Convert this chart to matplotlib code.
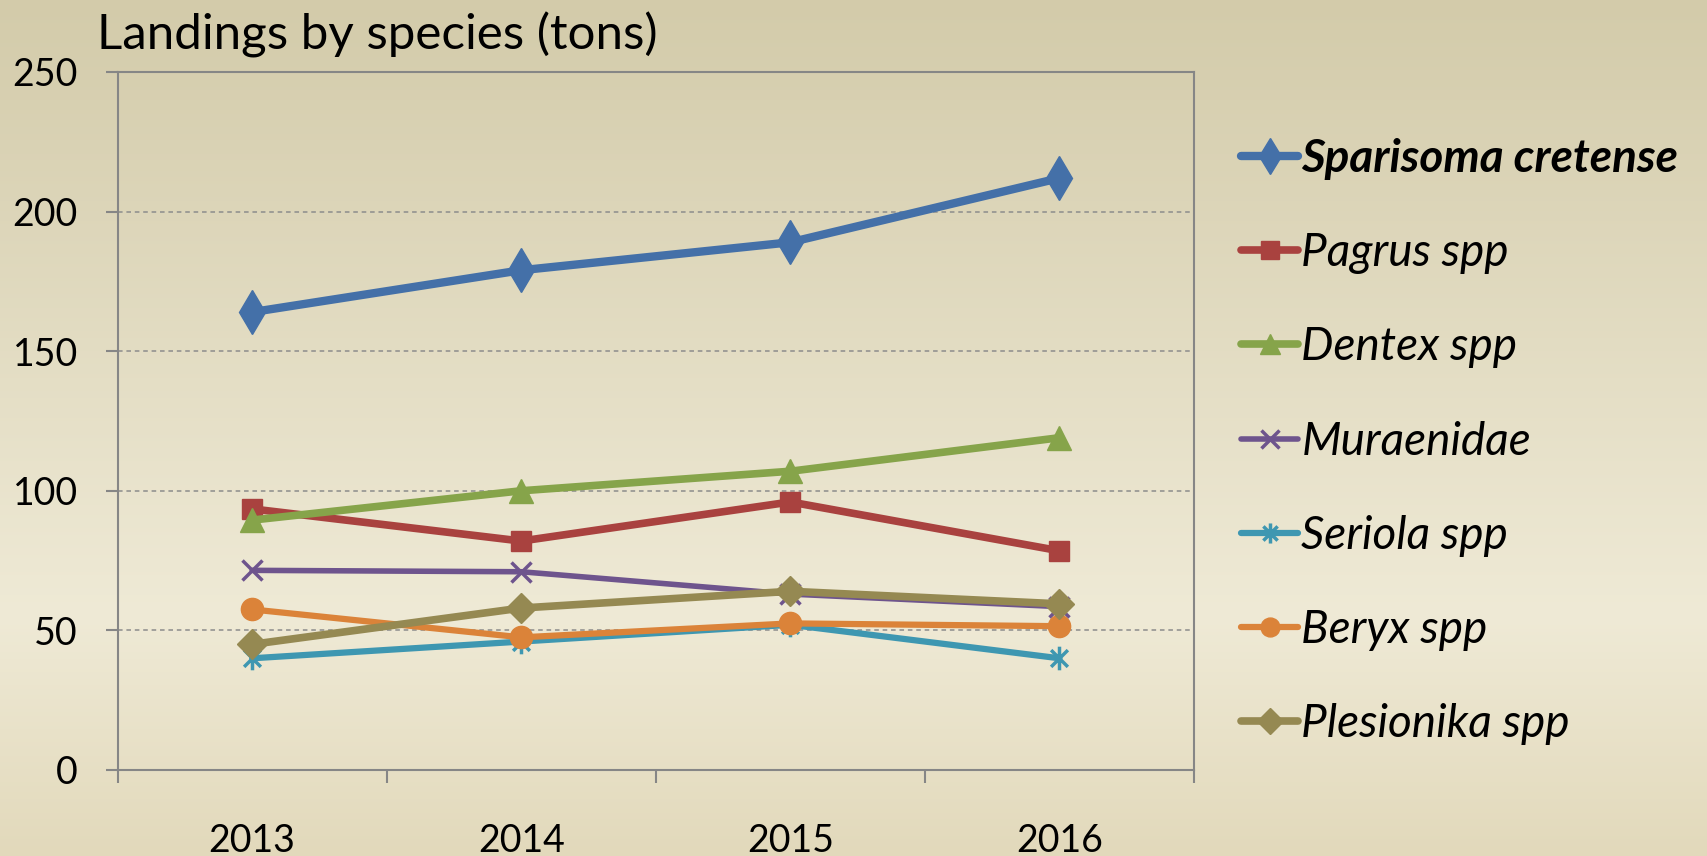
import numpy as np
import matplotlib
matplotlib.use("Agg")
import matplotlib.pyplot as plt
from matplotlib.path import Path
from matplotlib.colors import LinearSegmentedColormap

# data
years = ["2013", "2014", "2015", "2016"]
species = ["Sparisoma cretense", "Pagrus spp", "Dentex spp", "Muraenidae",
           "Seriola spp", "Beryx spp", "Plesionika spp"]
sparisoma = [164, 179, 189, 212]
pagrus = [93.5, 82, 96, 78.5]
dentex = [89.5, 100, 107, 119]
muraenidae = [71.5, 71, 63, 58.5]
seriola = [40, 46, 52, 40]
beryx = [57.5, 47.5, 52.5, 51.5]
plesionika = [45, 58, 64, 59.5]

values = [sparisoma, pagrus, dentex, muraenidae, seriola, beryx, plesionika]

# asterisk marker like Excel's: vertical bar plus an x
star = Path([(0, -1), (0, 1), (-0.71, -0.71), (0.71, 0.71), (-0.71, 0.71), (0.71, -0.71)],
            [Path.MOVETO, Path.LINETO, Path.MOVETO, Path.LINETO, Path.MOVETO, Path.LINETO])

styles = [
    dict(color="#4470A8", marker="d", ms=22, lw=6.0),
    dict(color="#A9423F", marker="s", ms=15, lw=5.5),
    dict(color="#86A44A", marker="^", ms=17, lw=5.5),
    dict(color="#6E548D", marker="x", ms=15, lw=4.0, mew=2.5),
    dict(color="#3E97B1", marker=star, ms=17, lw=4.5, mew=2.5),
    dict(color="#DB8339", marker="o", ms=16, lw=4.5),
    dict(color="#958952", marker="D", ms=15, lw=5.5),
]

plt.rcParams['font.family'] = ['Lato', 'DejaVu Sans']

fig = plt.figure(figsize=(17.07, 8.56), dpi=100)

# background gradient for whole slide
bg = fig.add_axes([0, 0, 1, 1], zorder=-10)
cmap = LinearSegmentedColormap.from_list(
    "bg", [(0.0, "#D3CBAA"), (0.72, "#EFEAD6"), (1.0, "#E2D9BB")])
grad = np.linspace(0, 1, 256).reshape(-1, 1)
bg.imshow(grad, aspect="auto", cmap=cmap, extent=[0, 1, 0, 1], origin="upper")
bg.axis("off")

ax = fig.add_axes([0.0689, 0.1005, 0.6306, 0.8154])
ax.set_facecolor("none")

x = np.arange(len(years))
for name, vals, st in zip(species, values, styles):
    ax.plot(x, vals, label=name, color=st["color"], lw=st["lw"], marker=st["marker"],
            markersize=st["ms"], markeredgewidth=st.get("mew", 1.0),
            markeredgecolor=st["color"], markerfacecolor=st["color"],
            solid_capstyle="round", solid_joinstyle="round", zorder=3)

ax.set_xlim(-0.5, len(years) - 0.5)
ax.set_ylim(0, 250)

ax.set_yticks([0, 50, 100, 150, 200, 250])
ax.tick_params(axis="y", length=8.6, width=1.5, color="#868686", pad=20, labelsize=27)
ax.set_xticks(np.arange(-0.5, len(years), 1.0))
ax.set_xticklabels([])
ax.set_xticks(x, minor=True)
ax.set_xticklabels(years, minor=True)
ax.tick_params(axis="x", which="major", length=9.4, width=1.5, color="#868686")
ax.tick_params(axis="x", which="minor", length=0, pad=38, labelsize=27)

for s in ax.spines.values():
    s.set_color("#868686")
    s.set_linewidth(1.5)

for yv in [50, 100, 150, 200]:
    ax.axhline(yv, color="#8C8C8C", lw=1.1, ls=(0, (3, 2.5)), zorder=1)

fig.text(0.057, 1 - 49 / 856, "Landings by species (tons)", fontsize=35.5,
         va="baseline", ha="left")

leg = ax.legend(loc="upper left", bbox_to_anchor=(0.727, 0.839),
                bbox_transform=fig.transFigure, frameon=False, fontsize=33,
                handlelength=1.25, handletextpad=0.07, labelspacing=1.14,
                borderpad=0, borderaxespad=0, markerscale=0.85)
for i, t in enumerate(leg.get_texts()):
    t.set_style("italic")
    if i == 0:
        t.set_weight("bold")

fig.savefig("out.png", dpi=100)
